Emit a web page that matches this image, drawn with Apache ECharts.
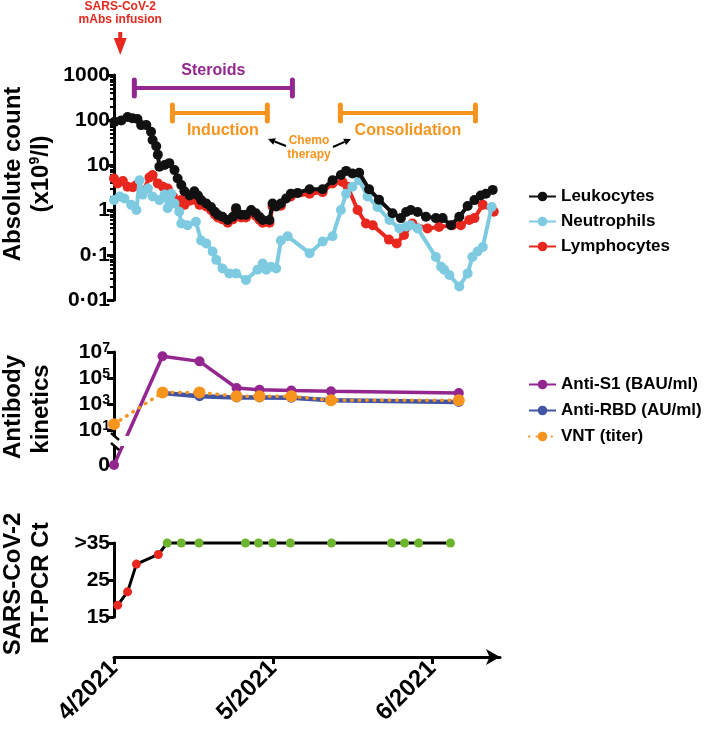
<!DOCTYPE html>
<html><head><meta charset="utf-8">
<script src="https://cdn.jsdelivr.net/npm/echarts@6/dist/echarts.min.js"></script>
<style>html,body{margin:0;padding:0;background:#fff}#c{width:709px;height:738px}</style>
</head><body><div id="c"></div>
<script>
// ---------- DATA (days since 1 April 2021) ----------
const MONTH_TICKS = [0, 30.5, 61];
const MONTH_LABELS = ['4/2021', '5/2021', '6/2021'];

const LEUKO_DAYS = [0.1,1.4,2.6,3.5,4.5,5.2,6.2,7.1,7.4,8.1,8.4,8.7,9.7,10.6,11.6,12.2,12.9,13.5,14.5,15.4,16.1,16.7,17.7,18.6,19.3,19.9,20.8,21.8,22.8,23.4,24.4,25.3,26.3,27.2,27.9,28.5,29.8,30.4,31.1,32.0,33.0,33.9,35.2,37.5,40.0,41.9,43.5,44.5,45.7,47.0,48.9,50.8,53.4,55.0,56.0,56.9,58.2,59.8,61.7,63.0,64.6,66.2,67.8,69.1,70.3,71.3,72.6];
const LEUKOCYTES = [91,98,117,110,105,77,77,55,36,26,17,9.2,10,11,7.7,5,3.6,2.6,2.1,2.6,2.1,1.66,1.4,1.17,0.92,0.78,0.71,0.6,0.71,1.1,0.78,0.78,1.0,0.85,0.7,0.6,0.6,1.4,1.2,1.4,1.8,2.3,2.4,2.9,2.9,4.6,6.0,7.4,6.5,6.7,2.9,1.7,0.85,0.66,0.9,1.0,0.9,0.71,0.66,0.66,0.46,0.71,1.23,1.66,2.1,2.3,2.8];

const NEUTRO_DAYS = [0,1.1,2.0,3.3,4.3,4.9,5.5,6.5,7.4,8.7,9.7,10.3,11.0,11.6,12.5,12.9,14.1,15.7,16.7,17.7,18.9,19.6,20.8,22.1,23.4,25.3,27.5,28.5,29.2,30.1,31.1,32.0,33.3,37.5,40.0,41.9,43.5,44.5,45.7,47.0,48.6,50.5,52.8,54.7,56.0,56.9,58.2,61.7,62.7,63.3,64.3,66.2,67.8,68.7,69.7,70.7,72.4];
const NEUTROPHILS = [1.66,2.0,1.8,1.3,1.0,4.6,2.2,3.0,2.0,1.66,2.2,1.1,2.3,1.4,0.92,0.5,0.46,0.55,0.21,0.18,0.12,0.078,0.05,0.039,0.039,0.028,0.047,0.065,0.047,0.055,0.05,0.21,0.26,0.11,0.2,0.26,1.0,2.3,3.3,4.6,2.0,1.17,0.6,0.39,0.43,0.46,0.39,0.09,0.055,0.047,0.036,0.02,0.039,0.09,0.12,0.15,1.17];

const LYMPHO_DAYS = [0,0.7,1.7,2.6,3.6,4.3,5.5,6.8,7.4,8.4,9.4,10.3,11.3,12.2,12.9,13.5,14.5,15.4,16.4,17.7,18.6,19.3,19.9,20.8,21.8,22.8,23.4,24.4,25.3,26.3,27.2,27.9,28.5,29.8,30.4,32.0,33.9,37.5,40.0,41.9,43.8,44.8,46.7,48.3,49.6,52.7,54.2,55.6,57.2,60.1,62.3,64.9,66.5,68.1,69.1,70.7,72.8];
const LYMPHOCYTES = [5.0,3.9,4.4,3.3,3.2,3.6,2.5,5.3,6.0,3.9,3.3,3.0,2.0,1.5,1.66,1.3,1.6,1.7,1.3,1.2,1.0,0.8,0.68,0.62,0.52,0.62,0.95,0.68,0.68,0.87,0.74,0.6,0.52,0.52,1.2,1.25,2.0,2.3,2.5,3.9,4.2,3.3,1.0,0.5,0.46,0.22,0.18,0.28,0.5,0.39,0.42,0.46,0.46,0.6,0.66,1.3,0.92];

const COUNT_TICKS = [0.01, 0.1, 1, 10, 100, 1000];
const COUNT_TICK_LABELS = ['0·01', '0·1', '1', '10', '100', '1000'];

const AB_DAYS = [0, 9.3, 16.4, 23.5, 27.9, 34.0, 41.6, 66.1];
const ANTI_S1 = [0, 4.7e6, 1.9e6, 1.7e4, 1.26e4, 1.1e4, 9.5e3, 7e3];
const RBD_DAYS = [9.3, 16.4, 23.5, 27.9, 34.0, 41.6, 66.1];
const ANTI_RBD = [7e3, 3.9e3, 3.1e3, 3.1e3, 3.0e3, 1.9e3, 1.4e3];
const VNT_DAYS = [0, 9.3, 16.4, 23.5, 27.9, 34.0, 41.6, 66.1];
const VNT = [28, 7.6e3, 7.6e3, 3.9e3, 3.9e3, 3.9e3, 1.9e3, 1.9e3];
const AB_TICKS = [0, 10, 1e3, 1e5, 1e7];

const PCR_DAYS = [0.7,2.6,4.3,8.5,10.2,12.9,16.3,25.2,27.7,30.4,33.8,41.7,53.2,55.7,58.4,64.5];
const PCR_CT = [18.2,21.8,29.3,31.9,35,35,35,35,35,35,35,35,35,35,35,35];
const CT_TICKS = [15, 25, 35];
const CT_TICK_LABELS = ['15', '25', '>35'];
const CT_NEGATIVE = 35; // ">35" = negative

const TREATMENTS = ['Steroids', 'Induction', 'Consolidation'];
const TREAT_START = [3.9, 11.2, 43.4];
const TREAT_END = [34.2, 29.4, 69.3];
const INFUSION_DAY = 1.2;

// ---------- CHART ----------
const FONT = "'Liberation Sans', Arial, sans-serif";
const LOG_ZERO = 0.02; // axis position standing for "0" below the axis break
const zip = (xs, ys) => xs.map((x, i) => [x, ys[i]]);

const minorTicks = [];
for (let e = -2; e < 3; e++) for (let k = 2; k <= 9; k++) minorTicks.push(+(k * Math.pow(10, e)).toPrecision(3));

const boldLbl = {color: '#000', fontFamily: FONT, fontWeight: 'bold', fontSize: 21};
const axisLineStyle = {color: '#000', width: 3};

const chart = echarts.init(document.getElementById('c'), null, {renderer: 'canvas'});
const X_MAX = 74;
const hiddenX = gi => ({type: 'value', gridIndex: gi, min: 0, max: X_MAX, show: false});

const lineSeries = (name, xi, yi, data, color, extra) => Object.assign({
  name, type: 'line', xAxisIndex: xi, yAxisIndex: yi, data,
  symbol: 'circle', symbolSize: 10, clip: false,
  lineStyle: {color, width: 4}, itemStyle: {color}
}, extra || {});

const option = {
  animation: false,
  backgroundColor: '#fff',
  grid: [
    {left: 114, width: 386, top: 75, height: 225},
    {left: 114, width: 386, top: 352, height: 113},
    {left: 114, width: 386, top: 543, height: 74}
  ],
  xAxis: [
    hiddenX(0), hiddenX(1),
    {type: 'value', gridIndex: 2, min: 0, max: X_MAX, offset: 40,
     axisLine: {show: true, lineStyle: axisLineStyle, symbol: ['none', 'arrow'], symbolSize: [12, 14]},
     axisTick: {show: true, length: 7, lineStyle: {width: 3, color: '#000'}, customValues: MONTH_TICKS},
     axisLabel: Object.assign({}, boldLbl, {fontSize: 24, rotate: 45, margin: 8, customValues: MONTH_TICKS,
       formatter: v => MONTH_LABELS[MONTH_TICKS.indexOf(v)] || ''}),
     splitLine: {show: false}}
  ],
  yAxis: [
    {type: 'log', gridIndex: 0, min: 0.01, max: 1000, position: 'left',
     axisLine: {show: true, lineStyle: axisLineStyle},
     axisTick: {show: true, length: 7, lineStyle: {width: 3, color: '#000'}, customValues: COUNT_TICKS},
     axisLabel: Object.assign({}, boldLbl, {margin: 4, customValues: COUNT_TICKS,
       formatter: v => { const i = COUNT_TICKS.findIndex(t => Math.abs(Math.log10(t) - Math.log10(v)) < 1e-6); return i >= 0 ? COUNT_TICK_LABELS[i] : ''; }}),
     splitLine: {show: false}},
    {type: 'log', gridIndex: 0, min: 0.01, max: 1000, position: 'left',
     axisLine: {show: false},
     axisTick: {show: true, length: 4, lineStyle: {width: 2, color: '#000'}, customValues: minorTicks},
     axisLabel: {show: false}, splitLine: {show: false}},
    {type: 'log', gridIndex: 1, min: LOG_ZERO, max: 1e7, position: 'left',
     axisLine: {show: true, lineStyle: axisLineStyle},
     axisTick: {show: true, length: 7, lineStyle: {width: 3, color: '#000'}, customValues: AB_TICKS.map(v => v === 0 ? LOG_ZERO : v)},
     axisLabel: {margin: 4, customValues: AB_TICKS.map(v => v === 0 ? LOG_ZERO : v),
       formatter: v => v < 1 ? '{n|0}' : '{n|10}{s|' + Math.round(Math.log10(v)) + '}',
       rich: {n: Object.assign({}, boldLbl, {lineHeight: 22}), s: Object.assign({}, boldLbl, {fontSize: 14, verticalAlign: 'top', lineHeight: 22})}},
     splitLine: {show: false}},
    {type: 'value', gridIndex: 2, min: 15, max: 35, position: 'left',
     axisLine: {show: true, lineStyle: axisLineStyle},
     axisTick: {show: true, length: 7, lineStyle: {width: 3, color: '#000'}, customValues: CT_TICKS},
     axisLabel: Object.assign({}, boldLbl, {margin: 4, customValues: CT_TICKS,
       formatter: v => CT_TICK_LABELS[CT_TICKS.indexOf(v)] || ''}),
     splitLine: {show: false}}
  ],
  legend: [
    {data: ['Leukocytes', 'Neutrophils', 'Lymphocytes'], orient: 'vertical', left: 523, top: 183,
     itemWidth: 27, itemHeight: 12, itemGap: 8, selectedMode: false,
     textStyle: {color: '#000', fontFamily: FONT, fontWeight: 'bold', fontSize: 17, lineHeight: 17}},
    {data: ['Anti-S1 (BAU/ml)', 'Anti-RBD (AU/ml)', 'VNT (titer)'], orient: 'vertical', left: 523, top: 371,
     itemWidth: 27, itemHeight: 12, itemGap: 9, selectedMode: false,
     textStyle: {color: '#000', fontFamily: FONT, fontWeight: 'bold', fontSize: 17, lineHeight: 17}}
  ],
  series: [
    lineSeries('Lymphocytes', 0, 0, zip(LYMPHO_DAYS, LYMPHOCYTES), '#e8281e', {z: 2}),
    lineSeries('Neutrophils', 0, 0, zip(NEUTRO_DAYS, NEUTROPHILS), '#7ecbe1', {z: 3}),
    lineSeries('Leukocytes', 0, 0, zip(LEUKO_DAYS, LEUKOCYTES), '#111111', {z: 4}),
    lineSeries('Anti-S1 (BAU/ml)', 1, 2, zip(AB_DAYS, ANTI_S1.map(v => v === 0 ? LOG_ZERO : v)), '#93278f', {lineStyle: {color: '#93278f', width: 3.5}}),
    lineSeries('Anti-RBD (AU/ml)', 1, 2, zip(RBD_DAYS, ANTI_RBD), '#4254a4', {lineStyle: {color: '#4254a4', width: 4.5}}),
    lineSeries('VNT (titer)', 1, 2, zip(VNT_DAYS, VNT), '#f7941d', {symbolSize: 12,
      lineStyle: {color: '#f7941d', width: 3.5, type: [0.5, 7], cap: 'round'}}),
    {name: 'PCR', type: 'line', xAxisIndex: 2, yAxisIndex: 3, data: zip(PCR_DAYS, PCR_CT),
     symbol: 'circle', symbolSize: 9, clip: false,
     lineStyle: {color: '#000', width: 3},
     itemStyle: {color: p => p.value[1] >= CT_NEGATIVE ? '#6cb52d' : '#e8281e'}}
  ]
};
chart.setOption(option);

// ---------- ANNOTATIONS ----------
const px = d => chart.convertToPixel({xAxisIndex: 0}, d);
const py1 = v => chart.convertToPixel({yAxisIndex: 2}, v);
const PURPLE = '#93278f', ORANGE = '#f7941d', RED = '#e8281e';
const g = [];
const txt = (text, x, y, size, color, extra) => g.push(Object.assign({type: 'text', x, y, z: 100,
  style: {text, fill: color, fontFamily: FONT, fontWeight: 'bold', fontSize: size, align: 'center', verticalAlign: 'middle'}}, extra || {}));
const bar = (x1, x2, y, color) => {
  const s = {stroke: color, lineWidth: 4, lineCap: 'round'};
  g.push({type: 'line', shape: {x1, y1: y, x2, y2: y}, style: s, z: 100});
  g.push({type: 'line', shape: {x1, y1: y - 8, x2: x1, y2: y + 8}, style: Object.assign({}, s, {lineWidth: 5}), z: 100});
  g.push({type: 'line', shape: {x1: x2, y1: y - 8, x2, y2: y + 8}, style: Object.assign({}, s, {lineWidth: 5}), z: 100});
};
const arrow = (x1, y1, x2, y2) => {
  const a = Math.atan2(y2 - y1, x2 - x1), L = 7, W = 3.5;
  const bx = x2 - L * Math.cos(a), by = y2 - L * Math.sin(a);
  g.push({type: 'line', shape: {x1, y1, x2: bx, y2: by}, style: {stroke: '#000', lineWidth: 2}, z: 100});
  g.push({type: 'polygon', shape: {points: [[x2, y2], [bx + W * Math.sin(a), by - W * Math.cos(a)], [bx - W * Math.sin(a), by + W * Math.cos(a)]]}, style: {fill: '#000'}, z: 100});
};

// treatment bars
const barY = [88, 113, 113], lblY = [71, 131, 131], barCol = [PURPLE, ORANGE, ORANGE], lblDx = [0, 3, 0];
TREATMENTS.forEach((t, i) => {
  const x1 = px(TREAT_START[i]), x2 = px(TREAT_END[i]);
  bar(x1, x2, barY[i], barCol[i]);
  txt(t, (x1 + x2) / 2 + lblDx[i], lblY[i], 16, barCol[i]);
});
// chemotherapy note
txt('Chemo', 309, 141, 12, ORANGE);
txt('therapy', 309, 155, 12, ORANGE);
arrow(286, 146, 268, 139);
arrow(333, 147, 351, 139);

// infusion arrow
const ix = px(INFUSION_DAY);
txt('SARS-CoV-2', ix, 7, 12, RED);
txt('mAbs infusion', ix, 20, 12, RED);
g.push({type: 'polygon', z: 100, shape: {points: [[ix - 2, 32], [ix + 2, 32], [ix + 2, 38], [ix + 6.5, 38], [ix, 55], [ix - 6.5, 38], [ix - 2, 38]]}, style: {fill: RED}});

// axis break on the antibody axis
const axX = 114;
const yTen = py1(10), yZero = py1(LOG_ZERO);
const bTop = yTen + 6, bBot = yZero - 19;
g.push({type: 'rect', z: 50, shape: {x: axX - 6, y: bTop, width: 26, height: bBot - bTop}, style: {fill: '#fff'}});
[bTop, bBot].forEach(yb => g.push({type: 'line', z: 60, shape: {x1: axX - 3, y1: yb - 3, x2: axX + 5, y2: yb + 4}, style: {stroke: '#000', lineWidth: 2.5}}));

// y-axis titles
const T = 24;
txt('Absolute count', 13, 174, T, '#000', {rotation: Math.PI / 2});
g.push({type: 'text', x: 41, y: 174, rotation: Math.PI / 2, z: 100,
  style: {text: '{t|(x10}{s|9}{t|/l)}', align: 'center', verticalAlign: 'middle',
    rich: {t: {fontFamily: FONT, fontWeight: 'bold', fontSize: T, fill: '#000', lineHeight: 26},
           s: {fontFamily: FONT, fontWeight: 'bold', fontSize: 14, fill: '#000', verticalAlign: 'top', lineHeight: 26}}}});
txt('Antibody', 13, 407, T, '#000', {rotation: Math.PI / 2});
txt('kinetics', 41, 409, T, '#000', {rotation: Math.PI / 2});
txt('SARS-CoV-2', 13, 584, T, '#000', {rotation: Math.PI / 2});
txt('RT-PCR Ct', 41, 583, T, '#000', {rotation: Math.PI / 2});

chart.setOption({graphic: g});
</script></body></html>
